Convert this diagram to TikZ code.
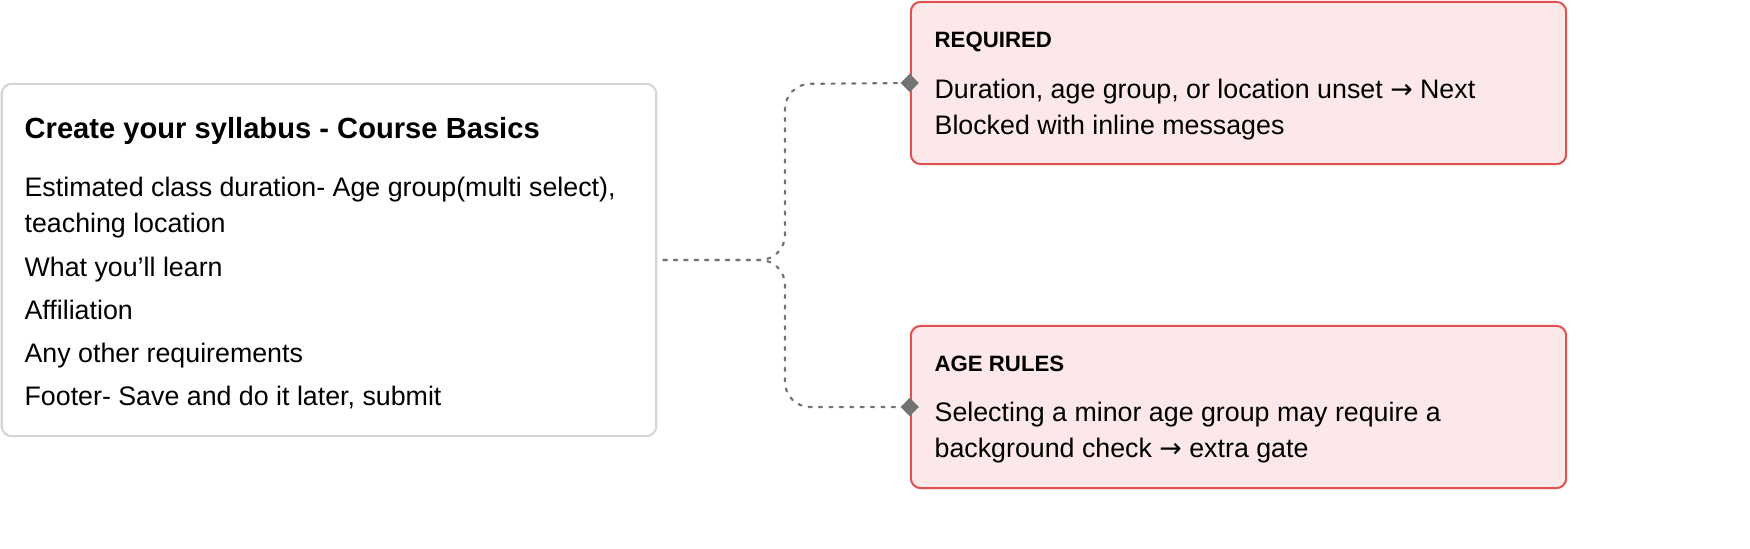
\documentclass[tikz,border=0pt]{standalone}
\usepackage{fontspec}
\setmainfont{Liberation Sans}
\newfontfamily\arrowfont{DejaVu Sans}
\usetikzlibrary{shapes.geometric}
\definecolor{boxline}{HTML}{D4D4D4}
\definecolor{redfill}{HTML}{FCE8E8}
\definecolor{redline}{HTML}{E05252}
\definecolor{linkgray}{HTML}{737373}
\newcommand{\toarrow}{{\arrowfont →}}
\tikzset{
  card/.style={draw=boxline,line width=0.65pt,rounded corners=0.11cm,fill=white,inner sep=0pt},
  rule/.style={draw=redline,line width=0.65pt,rounded corners=0.11cm,fill=redfill,inner sep=0pt,
    minimum width=7.31cm,minimum height=1.81cm},
  txt/.style={anchor=base west,inner sep=0pt,font=\fontsize{8.5pt}{10pt}\selectfont},
  head/.style={anchor=base west,inner sep=0pt,font=\bfseries\fontsize{9.25pt}{11pt}\selectfont},
  tag/.style={anchor=base west,inner sep=0pt,font=\bfseries\fontsize{7.05pt}{9pt}\selectfont},
  link/.style={draw=linkgray,line width=0.7pt,dash pattern=on 1pt off 2.3pt,line cap=round,rounded corners=0.28cm},
  tip/.style={diamond,fill=linkgray,inner sep=0pt,minimum size=0.21cm}
}
\begin{document}
\begin{tikzpicture}[x=0.01116cm,y=-0.01116cm]
% course basics card
\node [card,minimum width=7.3cm,minimum height=3.93cm] (basics) at (329,260) {};
\node [head] (title) at (24,138) {Create your syllabus - Course Basics};
\node [txt] (l1) at (24,196) {Estimated class duration- Age group(multi select),};
\node [txt] (l1b) at (24,232) {teaching location};
\node [txt] (l2) at (24,276) {What you’ll learn};
\node [txt] (l3) at (24,319) {Affiliation};
\node [txt] (l4) at (24,362) {Any other requirements};
\node [txt] (l5) at (24,405) {Footer- Save and do it later, submit};

% rule cards
\node [rule] (req) at (1238.5,83) {};
\node [tag] at (934,47) {REQUIRED};
\node [txt] at (934,98) {Duration, age group, or location unset \toarrow{} Next};
\node [txt] at (934,134) {Blocked with inline messages};

\node [rule] (age) at (1238.5,407) {};
\node [tag] at (934,371) {AGE RULES};
\node [txt] at (934,421) {Selecting a minor age group may require a};
\node [txt] at (934,457) {background check \toarrow{} extra gate};

% connectors
\coordinate (split) at (785,260);
\draw [link] ([xshift=0.07cm]basics.east) -- (split) -- (785,84) -- (req.west);
\draw [link] ([xshift=0.07cm]basics.east) -- (split) -- (785,407) -- (age.west);
\node [tip] at (req.west) {};
\node [tip] at (age.west) {};
\pgfresetboundingbox
\useasboundingbox (0,0) rectangle (1750,548);
\end{tikzpicture}
\end{document}
